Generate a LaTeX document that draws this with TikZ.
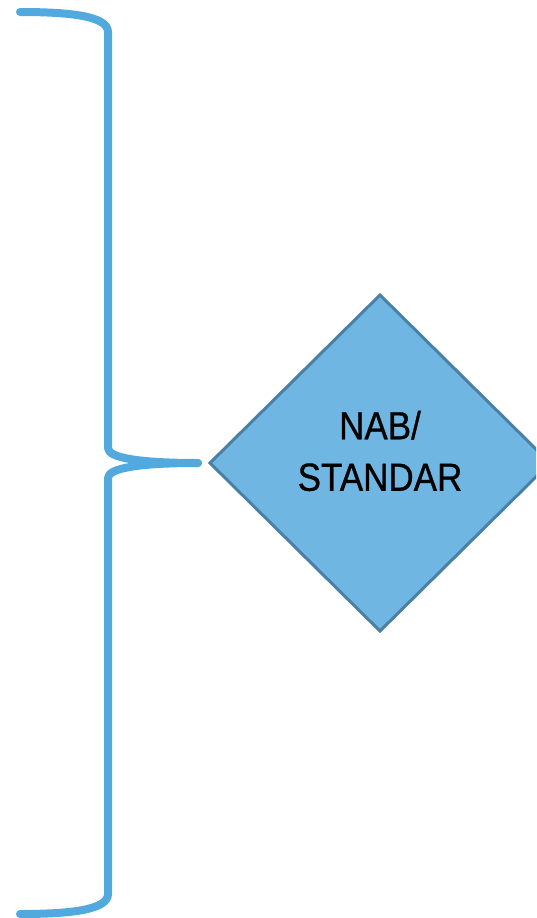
\documentclass[tikz,border=0pt]{standalone}
\usepackage{fontspec}
\setmainfont{Liberation Sans}
\newfontfamily\labfont[FakeBold=0.8]{Liberation Sans}
\definecolor{bracecol}{HTML}{51A9DE}
\definecolor{diafill}{HTML}{6FB6E3}
\definecolor{diaedge}{HTML}{4A80A6}
\tikzset{
  bracestroke/.style={draw=bracecol, line width=8pt, line cap=round, line join=round},
  diabox/.style={fill=diafill, draw=diaedge, line width=3pt, line join=miter},
  diatext/.style={font=\labfont\fontsize{35}{46}\selectfont, align=center, text=black, yscale=1.12}
}
\begin{document}
\begin{tikzpicture}[x=1pt,y=-1pt]
\useasboundingbox (0,0) rectangle (536,918);
\begin{scope}
\clip (0,0) rectangle (536,918);
\path[diabox] (380,295) -- (550,463) -- (380,631) -- (210,463) -- cycle;
\end{scope}
\coordinate (tip) at (198,463);
\coordinate (btop) at (20,12);
\coordinate (bbot) at (20,914);
\path[bracestroke] (btop) .. controls (70,12) and (108,16) .. (108,32)
  -- (108,448) .. controls (108,458) and (140,463) .. (tip);
\path[bracestroke] (bbot) .. controls (70,914) and (108,910) .. (108,894)
  -- (108,478) .. controls (108,468) and (140,463) .. (tip);
\node[diatext] (lab) at (380,451) {NAB/\\STANDAR};
\end{tikzpicture}
\end{document}
